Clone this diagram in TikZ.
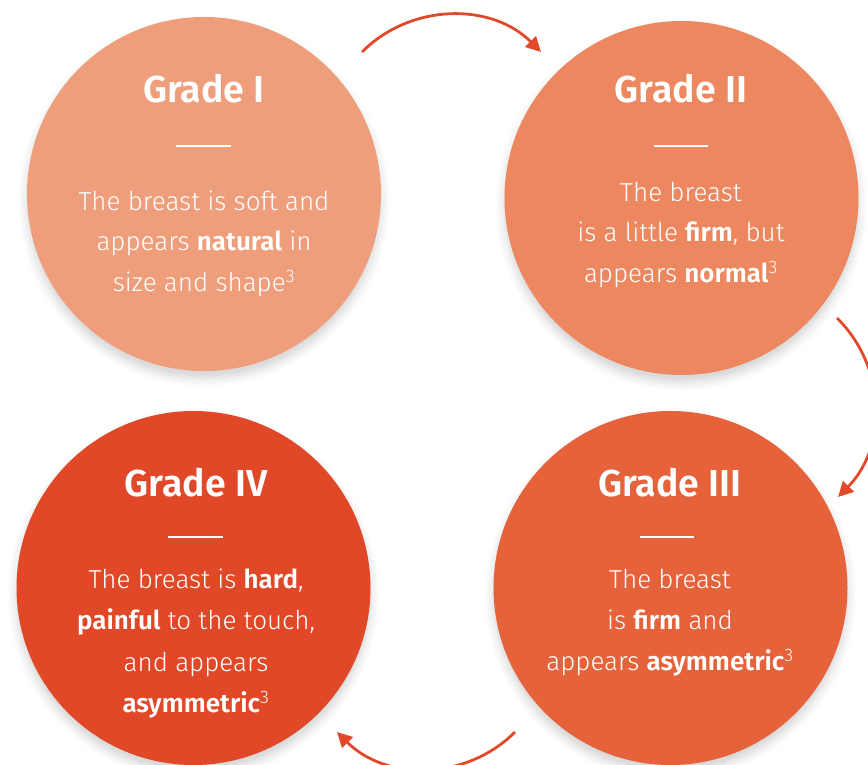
\documentclass[tikz,border=0pt]{standalone}
\usepackage{fontspec}
\setmainfont{Fira Sans}[UprightFont={* Light},BoldFont={* SemiBold}]
\usetikzlibrary{arrows.meta,shadows.blur}
\definecolor{gOne}{HTML}{EF9E7C}
\definecolor{gTwo}{HTML}{EC8760}
\definecolor{gThree}{HTML}{E5623B}
\definecolor{gFour}{HTML}{E04827}
\definecolor{flowc}{HTML}{E04A2A}
\tikzset{
  disc/.style={circle,minimum size=354pt,inner sep=0pt,draw=none,
    blur shadow={shadow xshift=0pt,shadow yshift=-7pt,shadow blur radius=9pt,shadow opacity=18}},
  gtitle/.style={anchor=base,text=white,inner sep=0pt,font=\fontsize{37.5}{37.5}\selectfont\bfseries},
  gbody/.style={anchor=base,text=white,inner sep=0pt,font=\fontsize{26}{26}\selectfont},
  grule/.style={draw=white,line width=2pt},
  flow/.style={draw=flowc,line width=2.8pt,-{Triangle[length=15pt,width=15pt]},bend left=45}
}
\begin{document}
\begin{tikzpicture}[x=1pt,y=1pt]
\useasboundingbox (0,0) rectangle (868,765);
% circles
\node[disc,fill=gOne]   (c1) at (204,571) {};
\node[disc,fill=gTwo]   (c2) at (681.5,567) {};
\node[disc,fill=gThree] (c3) at (670.5,177) {};
\node[disc,fill=gFour]  (c4) at (193.5,177) {};
% Grade I
\node[gtitle] (t1) at (204,662) {Grade I};
\draw[grule] (176,619) -- (231,619);
\node[gbody] (b1a) at (204,554) {The breast is soft and};
\node[gbody] (b1b) at (204,514) {appears \textbf{natural} in};
\node[gbody] (b1c) at (204,473) {size and shape\textsuperscript{3}};
% Grade II
\node[gtitle] (t2) at (681,662) {Grade II};
\draw[grule] (654,619) -- (708,619);
\node[gbody] (b2a) at (681,563) {The breast};
\node[gbody] (b2b) at (681,523) {is a little \textbf{firm}, but};
\node[gbody] (b2c) at (681,482) {appears \textbf{normal}\textsuperscript{3}};
% Grade III
\node[gtitle] (t3) at (670,268) {Grade III};
\draw[grule] (640,228) -- (694,228);
\node[gbody] (b3a) at (670,176) {The breast};
\node[gbody] (b3b) at (670,135) {is \textbf{firm} and};
\node[gbody] (b3c) at (670,94) {appears \textbf{asymmetric}\textsuperscript{3}};
% Grade IV
\node[gtitle] (t4) at (196,268) {Grade IV};
\draw[grule] (168,228) -- (223,228);
\node[gbody] (b4a) at (196,176) {The breast is \textbf{hard},};
\node[gbody] (b4b) at (196,135) {\textbf{painful} to the touch,};
\node[gbody] (b4c) at (196,93) {and appears};
\node[gbody] (b4d) at (196,52) {\textbf{asymmetric}\textsuperscript{3}};
% arrows
\coordinate (a1s) at (362,713);
\coordinate (a1e) at (541,713);
\coordinate (a2s) at (837,447);
\coordinate (a2e) at (838,268);
\coordinate (a3s) at (515,33);
\coordinate (a3e) at (337,33);
\draw[flow] (a1s) to (a1e);
\draw[flow] (a2s) to (a2e);
\draw[flow] (a3s) to (a3e);
\end{tikzpicture}
\end{document}
